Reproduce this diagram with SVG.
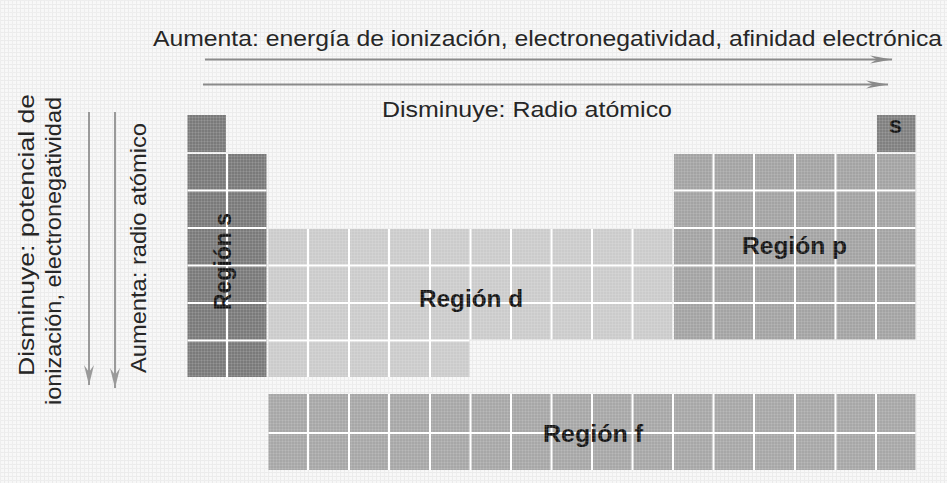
<svg xmlns="http://www.w3.org/2000/svg" width="947" height="483" viewBox="0 0 947 483">
  <defs>
    <pattern id="tex" width="4" height="4" patternUnits="userSpaceOnUse">
      <rect width="4" height="4" fill="#f7f7f7"/>
      <path d="M0 0.5H4M0.5 0V4" stroke="#ebebeb" stroke-width="1"/>
    </pattern>
    <pattern id="tex2" width="3" height="3" patternUnits="userSpaceOnUse">
      <path d="M0 0.5H3M0.5 0V3" stroke="#ffffff" stroke-width="0.6" stroke-opacity="0.18"/>
    </pattern>
    <marker id="arrH" viewBox="-22 -5 24 10" refX="0" refY="0" markerWidth="24" markerHeight="10" markerUnits="userSpaceOnUse" orient="auto">
      <path d="M-22,-4 L0,0 L-22,4 L-15,0 Z" fill="#8a8a8a"/>
    </marker>
    <marker id="arrV" viewBox="-22 -6 24 12" refX="0" refY="0" markerWidth="24" markerHeight="12" markerUnits="userSpaceOnUse" orient="auto">
      <path d="M-20,-5 L0,0 L-20,5 L-13,0 Z" fill="#9a9a9a"/>
    </marker>
  </defs>
  <style>
    .t { font-family: "Liberation Sans Narrow", "Liberation Sans", Arial, sans-serif; font-size: 22px; fill: #262626; }
    .lbl { font-family: "Liberation Sans Narrow", "Liberation Sans", Arial, sans-serif; font-size: 23px; font-weight: bold; fill: #141414; }
    .grid { stroke: #ffffff; stroke-width: 2; fill: none; }
    .s { fill: #7a7a7a; }
    .d { fill: #cbcbcb; }
    .p { fill: #a3a3a3; }
    .f { fill: #a7a7a7; }
    .he { fill: #808080; }
    .ah { stroke: #8a8a8a; stroke-width: 2; fill: none; }
    .av { stroke: #9a9a9a; stroke-width: 2; fill: none; }
  </style>

  <rect width="947" height="483" fill="url(#tex)"/>

  <g id="region-s">
    <rect class="s" x="187.5" y="115" width="38.5" height="37"/>
    <rect class="s" x="187.5" y="154" width="79" height="223"/>
    <path class="grid" d="M227 154V377M187.5 190.5H266.5M187.5 228H266.5M187.5 265.5H266.5M187.5 303H266.5M187.5 340.5H266.5"/>
    <text class="lbl" transform="translate(231,310) rotate(-90)" textLength="97" lengthAdjust="spacingAndGlyphs">Región s</text>
  </g>

  <g id="region-d">
    <path class="d" d="M268.5 229H672V339.5H469.5V377H268.5Z"/>
    <path class="grid" d="M308 229V377M349 229V377M389 229V377M430 229V377M470.5 229V339.5M511 229V339.5M551.5 229V339.5M592 229V339.5M632.5 229V339.5M268.5 265.5H672M268.5 303H672M268.5 340.5H469.5"/>
    <text class="lbl" x="419" y="307" textLength="104" lengthAdjust="spacingAndGlyphs">Región d</text>
  </g>

  <g id="region-p">
    <rect class="p" x="674" y="154" width="241.5" height="185.5"/>
    <path class="grid" d="M713.5 154V339.5M754 154V339.5M795 154V339.5M835.5 154V339.5M876 154V339.5M674 190.5H915.5M674 228H915.5M674 265.5H915.5M674 303H915.5"/>
    <text class="lbl" x="742" y="254" textLength="105" lengthAdjust="spacingAndGlyphs">Región p</text>
  </g>

  <g id="cell-s-top">
    <rect class="he" x="877" y="115" width="38.5" height="37"/>
    <text class="lbl" x="889" y="133" font-size="21" textLength="13" lengthAdjust="spacingAndGlyphs">s</text>
  </g>

  <g id="region-f">
    <rect class="f" x="268.5" y="394" width="647" height="76"/>
    <path class="grid" d="M268.5 433H915.5M308 394V470M349 394V470M389 394V470M430 394V470M470.5 394V470M511 394V470M551.5 394V470M592 394V470M632.5 394V470M673 394V470M713.5 394V470M754 394V470M795 394V470M835.5 394V470M876 394V470"/>
    <text class="lbl" x="543" y="442" textLength="100" lengthAdjust="spacingAndGlyphs">Región f</text>
  </g>

  <rect width="947" height="483" fill="url(#tex2)" pointer-events="none"/>

  <g id="connectors">
    <line class="ah" x1="205" y1="59.5" x2="892" y2="59.5" marker-end="url(#arrH)"/>
    <line class="ah" x1="203" y1="84.5" x2="888" y2="84.5" marker-end="url(#arrH)"/>
    <line class="av" x1="89" y1="112" x2="89" y2="385" marker-end="url(#arrV)"/>
    <line class="av" x1="115" y1="112" x2="115" y2="388" marker-end="url(#arrV)"/>
  </g>

  <g id="labels">
    <text class="t" x="153" y="46" textLength="789" lengthAdjust="spacingAndGlyphs">Aumenta: energía de ionización, electronegatividad, afinidad electrónica</text>
    <text class="t" x="382" y="117" textLength="290" lengthAdjust="spacingAndGlyphs">Disminuye: Radio atómico</text>
    <text class="t" transform="translate(34,376) rotate(-90)" textLength="282" lengthAdjust="spacingAndGlyphs">Disminuye: potencial de</text>
    <text class="t" transform="translate(61,405) rotate(-90)" textLength="308" lengthAdjust="spacingAndGlyphs">ionización, electronegatividad</text>
    <text class="t" transform="translate(146,373) rotate(-90)" textLength="250" lengthAdjust="spacingAndGlyphs">Aumenta: radio atómico</text>
  </g>
</svg>
